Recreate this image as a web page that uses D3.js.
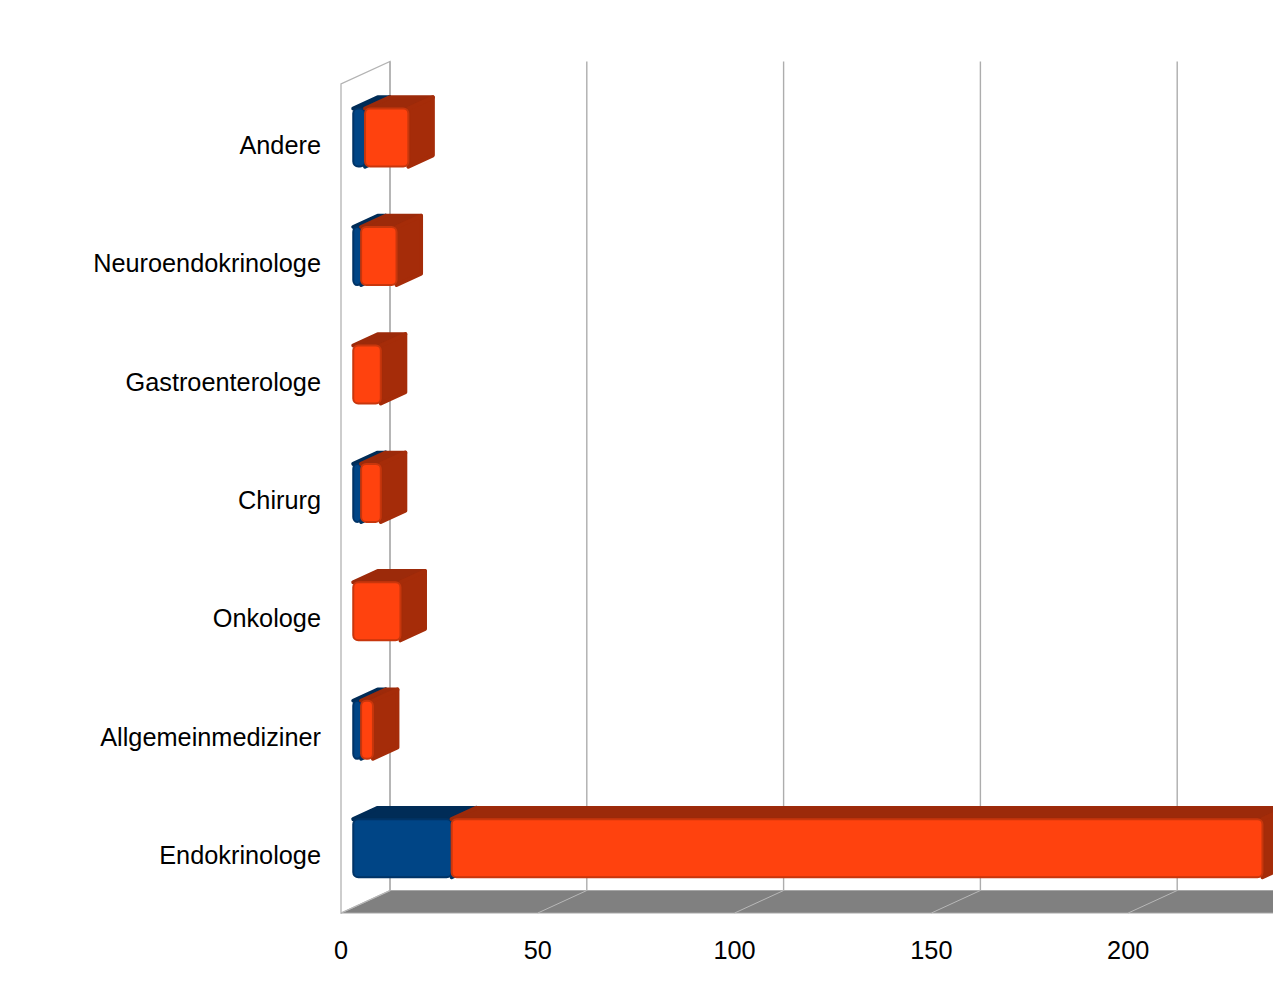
<!DOCTYPE html>
<html>
<head>
<meta charset="utf-8">
<script src="https://cdn.jsdelivr.net/npm/d3@7"></script>
<style>
  html, body { margin: 0; padding: 0; background: #ffffff; }
  svg { display: block; }
</style>
</head>
<body>
<svg id="chart" width="1273" height="988"></svg>
<script>
// ---- data (top to bottom as displayed) ----
const categories = ["Andere", "Neuroendokrinologe", "Gastroenterologe", "Chirurg", "Onkologe", "Allgemeinmediziner", "Endokrinologe"];
const seriesBlue   = [3, 2, 0, 2, 0, 2, 25];
const seriesOrange = [11, 9, 7, 5, 12, 3, 206];
const tickValues   = [0, 50, 100, 150, 200];

// ---- layout ----
const svg = d3.select("#chart");
const x = d3.scaleLinear().domain([0, 250]).range([341, 341 + 250 * 3.936]);
const y = d3.scaleBand().domain(categories).range([84, 913]).padding(0);
const DX = 49, DY = 22.5;            // depth projection (front plane -> back wall)
const P = (v, yy, z) => [x(v) + z * DX, yy - z * DY];
const Z0 = 0.25, Z1 = 0.75;          // bar depth range
const barH = 58;

const colors = {
  blue:   { front: "#004586", top: "#002c57", side: "#00335f", rim: "#003366" },
  orange: { front: "#ff420e", top: "#9c2a0a", side: "#a52c09", rim: "#c8360c" }
};

// ---- walls & floor ----
const yTop = 84, yBot = 913, vMax = 250;
const line = d3.line();
// floor
svg.append("path")
  .attr("d", line([P(0, yBot, 0), P(vMax, yBot, 0), P(vMax, yBot, 1), P(0, yBot, 1)]) + "Z")
  .attr("fill", "#808080").attr("stroke", "#a6a6a6").attr("stroke-width", 1);
// left wall
svg.append("path")
  .attr("d", line([P(0, yBot, 0), P(0, yTop, 0), P(0, yTop, 1), P(0, yBot, 1)]) + "Z")
  .attr("fill", "#ffffff").attr("stroke", "#b3b3b3").attr("stroke-width", 1.3);
// gridlines: floor + back wall
tickValues.forEach(v => {
  svg.append("path")
    .attr("d", line([P(v, yBot, 0), P(v, yBot, 1)]))
    .attr("stroke", "#b8b8b8").attr("stroke-width", 1).attr("fill", "none");
  svg.append("path")
    .attr("d", line([P(v, yBot, 1), P(v, yTop, 1)]))
    .attr("stroke", "#adadad").attr("stroke-width", 1.4).attr("fill", "none");
});

// ---- bars ----
function drawBox(g, v0, v1, cat, col) {
  if (v1 - v0 <= 0) return;
  const cy = y(cat) + y.bandwidth() / 2;
  const t = cy - barH / 2, b = cy + barH / 2;
  const ftl = P(v0, t, Z0), ftr = P(v1, t, Z0), fbr = P(v1, b, Z0);
  const btl = P(v0, t, Z1), btr = P(v1, t, Z1), bbr = P(v1, b, Z1);
  // top face
  g.append("path").attr("d", line([ftl, ftr, btr, btl]) + "Z")
    .attr("fill", col.top).attr("stroke", col.top).attr("stroke-width", 4).attr("stroke-linejoin", "round");
  // right face
  g.append("path").attr("d", line([ftr, btr, bbr, fbr]) + "Z")
    .attr("fill", col.side).attr("stroke", col.side).attr("stroke-width", 4).attr("stroke-linejoin", "round");
  // front face
  g.append("rect")
    .attr("x", ftl[0]).attr("y", ftl[1])
    .attr("width", fbr[0] - ftl[0]).attr("height", fbr[1] - ftl[1])
    .attr("rx", 5).attr("ry", 5)
    .attr("fill", col.front)
    .attr("stroke", col.rim).attr("stroke-width", 2);
}

const bars = svg.append("g");
categories.forEach((cat, i) => {
  const g = bars.append("g");
  drawBox(g, 0, seriesBlue[i], cat, colors.blue);
  drawBox(g, seriesBlue[i], seriesBlue[i] + seriesOrange[i], cat, colors.orange);
});

// ---- labels ----
const font = "'Liberation Sans', Arial, sans-serif";
svg.append("g").selectAll("text").data(categories).join("text")
  .attr("x", 321)
  .attr("y", d => y(d) + y.bandwidth() / 2 + 10.5)
  .attr("text-anchor", "end")
  .attr("font-family", font).attr("font-size", 25.3).attr("fill", "#000")
  .text(d => d);

svg.append("g").selectAll("text").data(tickValues).join("text")
  .attr("x", d => x(d))
  .attr("y", 959)
  .attr("text-anchor", "middle")
  .attr("font-family", font).attr("font-size", 25.3).attr("fill", "#000")
  .text(d => d);
</script>
</body>
</html>
